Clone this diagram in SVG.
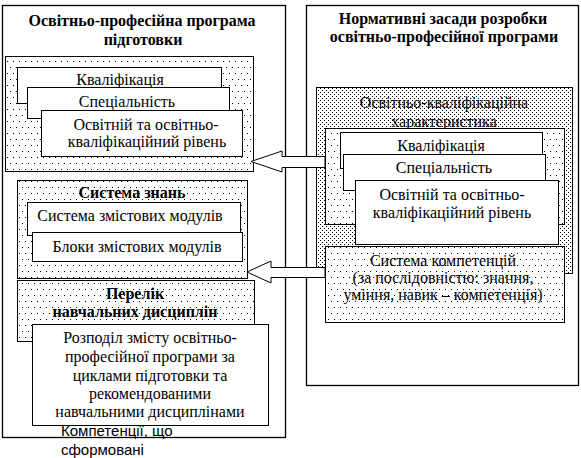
<svg xmlns="http://www.w3.org/2000/svg" width="581" height="458" viewBox="0 0 581 458">
<defs>
<pattern id="sparse" width="6" height="12" patternUnits="userSpaceOnUse"><rect width="6" height="12" fill="#fff"/><rect x="1" y="1" width="1" height="1" fill="#000"/><rect x="4" y="7" width="1" height="1" fill="#000"/></pattern>
<pattern id="dense" width="4" height="4" patternUnits="userSpaceOnUse"><rect width="4" height="4" fill="#fff"/><rect x="0" y="0" width="1" height="1" fill="#000"/><rect x="2" y="2" width="1" height="1" fill="#000"/></pattern>
</defs>
<style>
rect.b{fill:#fff;stroke:#000;stroke-width:1}
rect.s{fill:url(#sparse);stroke:#000;stroke-width:1}
rect.d{fill:url(#dense);stroke:#000;stroke-width:1}
rect.o{fill:#fff;stroke:#000;stroke-width:1.3}
text{font-family:"Liberation Serif","Times New Roman",serif;font-size:16px;fill:#000;text-anchor:middle}
text.h{font-weight:bold}
text.a{font-family:"Liberation Sans",Arial,sans-serif;font-size:15px;text-anchor:start}
path.arr{fill:#fff;stroke:#000;stroke-width:1}
</style>
<g id="left-outer">
<rect class="o" x="2.5" y="5.5" width="283" height="432"/>
<text class="h" x="142" y="26">Освітньо-професійна програма</text>
<text class="h" x="143" y="45">підготовки</text>
</g>
<g id="right-outer">
<rect class="o" x="306.5" y="5.5" width="272" height="380"/>
<text class="h" x="443" y="24">Нормативні засади розробки</text>
<text class="h" x="444" y="42">освітньо-професійної програми</text>
</g>
<g id="left-group1">
<rect class="s" x="5.5" y="56.5" width="248" height="115"/>
</g>
<g id="left-kval">
<rect class="b" x="17.5" y="67.5" width="204" height="36"/>
<text x="120" y="85">Кваліфікація</text>
</g>
<g id="left-spec">
<rect class="b" x="27.5" y="87.5" width="202" height="31"/>
<text x="127" y="107">Спеціальність</text>
</g>
<g id="left-riven">
<rect class="b" x="41.5" y="110.5" width="201" height="46"/>
<text x="146" y="130">Освітній та освітньо-</text>
<text x="147" y="147">кваліфікаційний рівень</text>
</g>
<g id="left-znan">
<rect class="s" x="17.5" y="180.5" width="230" height="98"/>
<text class="h" x="132" y="198">Система знань</text>
</g>
<g id="left-modul">
<rect class="b" x="27.5" y="202.5" width="213" height="33"/>
<text x="130" y="221">Система змістових модулів</text>
</g>
<g id="left-blok">
<rect class="b" x="32.5" y="232.5" width="210" height="29"/>
<text x="137" y="252">Блоки змістових модулів</text>
</g>
<g id="left-perelik">
<rect class="s" x="17.5" y="280.5" width="237" height="61"/>
<text class="h" x="135" y="299">Перелік</text>
<text class="h" x="135" y="317">навчальних дисциплін</text>
</g>
<g id="left-rozpodil">
<rect class="b" x="32.5" y="324.5" width="236" height="101"/>
<text x="150" y="343">Розподіл змісту освітньо-</text>
<text x="150" y="362">професійної програми за</text>
<text x="150" y="381">циклами підготовки та</text>
<text x="150" y="399">рекомендованими</text>
<text x="150" y="417">навчальними дисциплінами</text>
</g>
<g id="competence-note">
<text class="a" x="61" y="436">Компетенції, що</text>
<text class="a" x="61" y="455">сформовані</text>
</g>
<g id="right-okh">
<rect class="d" x="316.5" y="87.5" width="256" height="186"/>
<text x="444" y="108">Освітньо-кваліфікаційна</text>
<text x="444" y="127">характеристика</text>
</g>
<g id="right-group1">
<rect class="s" x="325.5" y="128.5" width="239" height="96"/>
</g>
<g id="right-kval">
<rect class="b" x="340.5" y="132.5" width="202" height="36"/>
<text x="441" y="151">Кваліфікація</text>
</g>
<g id="right-spec">
<rect class="b" x="343.5" y="154.5" width="202" height="36"/>
<text x="444" y="173">Спеціальність</text>
</g>
<g id="right-riven">
<rect class="b" x="355.5" y="180.5" width="203" height="64"/>
<text x="452" y="200">Освітній та освітньо-</text>
<text x="452" y="218">кваліфікаційний рівень</text>
</g>
<g id="right-komp">
<rect class="s" x="325.5" y="246.5" width="239" height="76"/>
<text x="443" y="266">Система компетенцій</text>
<text x="443" y="283">(за послідовністю: знання,</text>
<text x="443" y="300">уміння, навик – компетенція)</text>
</g>
<g id="connectors">
<path class="arr" d="M251,161.5 L282,151 L282,156.5 L325,156.5 L325,167.5 L282,167.5 L282,172 Z"/>
<path class="arr" d="M247,272 L271,261 L271,267.5 L325,267.5 L325,277.5 L271,277.5 L271,283 Z"/>
</g>
</svg>
